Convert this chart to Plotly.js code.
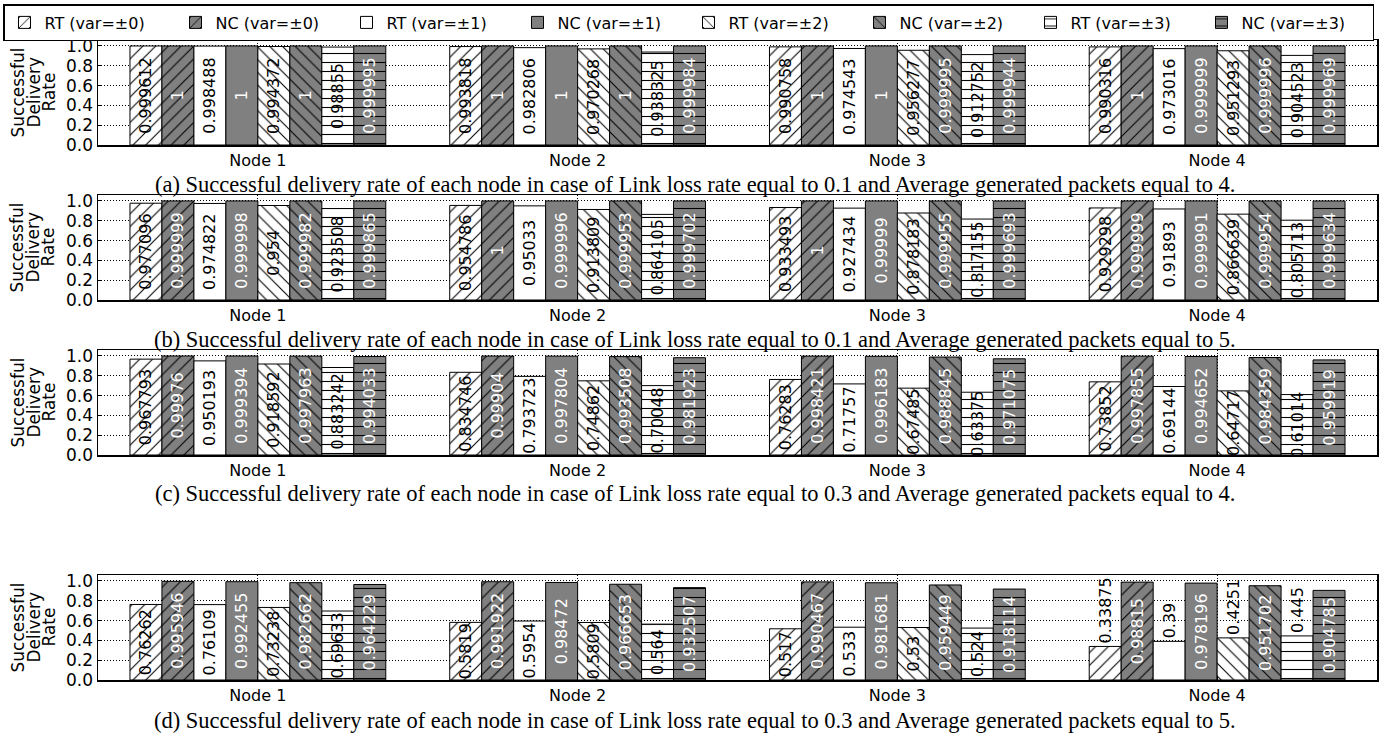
<!DOCTYPE html>
<html><head><meta charset="utf-8">
<script src="https://cdn.plot.ly/plotly-3.0.1.min.js"></script>
<style>html,body{margin:0;padding:0;background:#fff}</style>
</head><body><div id="chart" style="width:1390px;height:740px"></div>
<script>
const categories = ['Node 1', 'Node 2', 'Node 3', 'Node 4'];
const seriesNames = ['RT (var=±0)', 'NC (var=±0)', 'RT (var=±1)', 'NC (var=±1)',
                     'RT (var=±2)', 'NC (var=±2)', 'RT (var=±3)', 'NC (var=±3)'];
const yTicks = [0.0, 0.2, 0.4, 0.6, 0.8, 1.0];

// (a) loss 0.1, packets 4
const aRT0 = [0.999612, 0.993818, 0.990758, 0.990316];
const aNC0 = [1, 1, 1, 1];
const aRT1 = [0.998488, 0.982806, 0.974543, 0.973016];
const aNC1 = [1, 1, 1, 0.999999];
const aRT2 = [0.994372, 0.970268, 0.956277, 0.951293];
const aNC2 = [1, 1, 0.999995, 0.999996];
const aRT3 = [0.98855, 0.938325, 0.912752, 0.904523];
const aNC3 = [0.999995, 0.999984, 0.999944, 0.999969];
// (b) loss 0.1, packets 5
const bRT0 = [0.977096, 0.954786, 0.933493, 0.929298];
const bNC0 = [0.999999, 1, 1, 0.999999];
const bRT1 = [0.974822, 0.95033, 0.927434, 0.91893];
const bNC1 = [0.999998, 0.999996, 0.99999, 0.999991];
const bRT2 = [0.954, 0.913809, 0.878183, 0.866639];
const bNC2 = [0.999982, 0.999953, 0.999955, 0.999954];
const bRT3 = [0.923508, 0.864105, 0.817155, 0.805713];
const bNC3 = [0.999865, 0.999702, 0.999693, 0.999634];
// (c) loss 0.3, packets 4
const cRT0 = [0.967793, 0.834746, 0.76283, 0.73852];
const cNC0 = [0.99976, 0.99904, 0.998421, 0.997855];
const cRT1 = [0.950193, 0.793723, 0.71757, 0.69144];
const cNC1 = [0.999394, 0.997804, 0.996183, 0.994652];
const cRT2 = [0.918592, 0.74862, 0.67485, 0.64717];
const cNC2 = [0.997963, 0.993508, 0.988845, 0.984359];
const cRT3 = [0.883242, 0.70048, 0.63375, 0.61014];
const cNC3 = [0.994033, 0.981923, 0.971075, 0.959919];
// (d) loss 0.3, packets 5
const dRT0 = [0.76262, 0.5819, 0.517, 0.33875];
const dNC0 = [0.995946, 0.991922, 0.990467, 0.98815];
const dRT1 = [0.76109, 0.5954, 0.533, 0.39];
const dNC1 = [0.992455, 0.98472, 0.981681, 0.978196];
const dRT2 = [0.73238, 0.5809, 0.53, 0.4251];
const dNC2 = [0.982662, 0.966653, 0.959449, 0.951702];
const dRT3 = [0.69633, 0.564, 0.524, 0.445];
const dNC3 = [0.964229, 0.932507, 0.918114, 0.904785];

const captions = [
  '(a) Successful delivery rate of each node in case of Link loss rate equal to 0.1 and Average generated packets equal to 4.',
  '(b) Successful delivery rate of each node in case of Link loss rate equal to 0.1 and Average generated packets equal to 5.',
  '(c) Successful delivery rate of each node in case of Link loss rate equal to 0.3 and Average generated packets equal to 4.',
  '(d) Successful delivery rate of each node in case of Link loss rate equal to 0.3 and Average generated packets equal to 5.'
];
const yTitleLines = ['Successful', 'Delivery', 'Rate'];

const panelData = [
  [aRT0, aNC0, aRT1, aNC1, aRT2, aNC2, aRT3, aNC3],
  [bRT0, bNC0, bRT1, bNC1, bRT2, bNC2, bRT3, bNC3],
  [cRT0, cNC0, cRT1, cNC1, cRT2, cNC2, cRT3, cNC3],
  [dRT0, dNC0, dRT1, dNC1, dRT2, dNC2, dRT3, dNC3]
];

// ---------- styling / layout (pixel geometry) ----------
const W = 1390, H = 740;
const PX0 = 98, PX1 = 1377;          // plot area left/right in px
const GRAY = '#808080';
const hatches = ['/', '/', '', '', '\\', '\\', '-', '-'];
const panelPx = [[40, 145], [195, 300], [350, 455], [575, 680]];
const captionY = [184, 339, 494, 720];
const titleX = [17, 33, 48];
const FONT = 'DejaVu Sans';
const DOT = '1px,2px';

const traces = [];
panelData.forEach((series, p) => {
  const sfx = p === 0 ? '' : String(p + 1);
  series.forEach((vals, s) => {
    const isNC = s % 2 === 1;
    const fill = isNC ? GRAY : '#ffffff';
    const marker = {color: fill, line: {color: 'black', width: 1}};
    if (hatches[s]) {
      marker.pattern = {shape: hatches[s], fgcolor: 'black', bgcolor: fill,
                        fillmode: 'overlay', fgopacity: 1, size: 9, solidity: 0.12};
    }
    traces.push({
      type: 'bar', x: categories, y: vals,
      name: seriesNames[s], legendgroup: seriesNames[s], showlegend: p === 0,
      xaxis: 'x' + sfx, yaxis: 'y' + sfx,
      marker: marker,
      text: vals.map(v => String(v)),
      textposition: vals.map(v => v < 0.5 ? 'outside' : 'inside'),
      insidetextanchor: 'middle',
      textangle: -90,
      constraintext: 'none',
      cliponaxis: false,
      textfont: {family: FONT, size: 16, color: isNC ? '#ffffff' : '#000000'},
      outsidetextfont: {family: FONT, size: 16, color: '#000000'},
      hoverinfo: 'skip'
    });
  });
});

const layout = {
  width: W, height: H,
  margin: {l: 0, r: 0, t: 0, b: 0, pad: 0, autoexpand: false},
  paper_bgcolor: '#ffffff', plot_bgcolor: 'rgba(0,0,0,0)',
  barmode: 'group', bargap: 0.2, bargroupgap: 0,
  showlegend: true,
  legend: {
    orientation: 'h', x: 3 / W, xanchor: 'left', y: 1 - 4 / H, yanchor: 'top',
    bordercolor: '#000000', borderwidth: 1.5, bgcolor: '#ffffff',
    font: {family: FONT, size: 16, color: '#000000'},
    entrywidth: 126, entrywidthmode: 'pixels', traceorder: 'normal', itemclick: false
  },
  annotations: [],
  font: {family: FONT, color: '#000000'}
};

panelPx.forEach((box, p) => {
  const sfx = p === 0 ? '' : String(p + 1);
  const dom = [1 - box[1] / H, 1 - box[0] / H];
  layout['xaxis' + sfx] = {
    domain: [PX0 / W, PX1 / W], anchor: 'y' + sfx, type: 'category',
    categoryorder: 'array', categoryarray: categories,
    showline: true, mirror: true, linecolor: '#000000', linewidth: 1.5,
    showgrid: true, gridcolor: '#000000', gridwidth: 1, griddash: DOT,
    ticks: 'inside', ticklen: 4, tickcolor: '#000000',
    tickfont: {family: FONT, size: 16, color: '#000000'},
    zeroline: false, fixedrange: true
  };
  layout['yaxis' + sfx] = {
    domain: dom, anchor: 'x' + sfx, range: [0, 1.06],
    tickmode: 'array', tickvals: yTicks, ticktext: yTicks.map(v => v.toFixed(1)),
    showline: true, mirror: true, linecolor: '#000000', linewidth: 1.5,
    showgrid: true, gridcolor: '#000000', gridwidth: 1, griddash: DOT,
    ticks: 'inside', ticklen: 4, tickcolor: '#000000',
    tickfont: {family: FONT, size: 17, color: '#000000'},
    zeroline: false, fixedrange: true
  };
  const midY = 1 - (box[0] + box[1]) / 2 / H;
  yTitleLines.forEach((t, i) => {
    layout.annotations.push({
      text: t, xref: 'paper', yref: 'paper', x: titleX[i] / W, y: midY,
      xanchor: 'center', yanchor: 'middle', textangle: -90, showarrow: false,
      font: {family: FONT, size: 17, color: '#000000'}
    });
  });
  layout.annotations.push({
    text: captions[p], xref: 'paper', yref: 'paper',
    x: 695 / W, y: 1 - captionY[p] / H,
    xanchor: 'center', yanchor: 'middle', showarrow: false,
    font: {family: 'Liberation Serif', size: 22.5, color: '#000000'}
  });
});

Plotly.newPlot('chart', traces, layout, {staticPlot: true, displayModeBar: false});
</script>
</body></html>
